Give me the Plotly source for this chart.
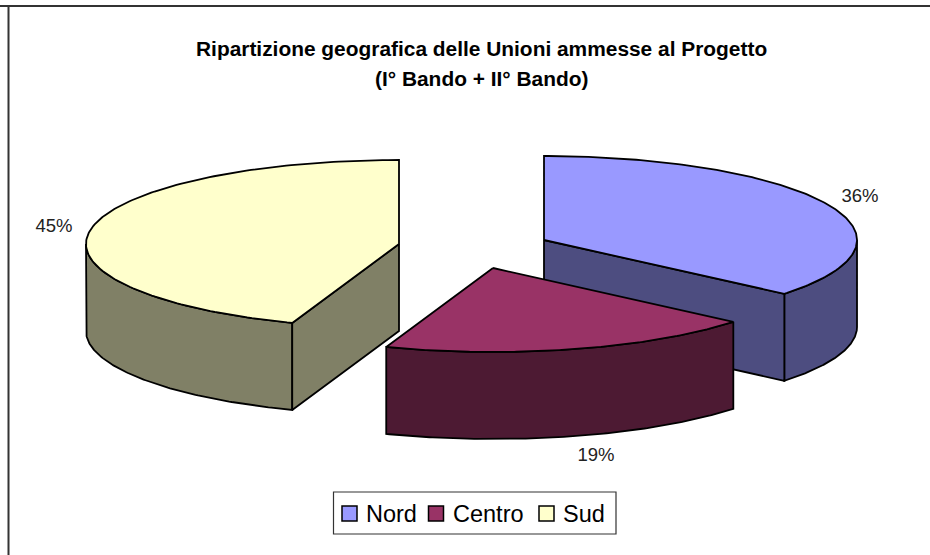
import numpy as np
import plotly.graph_objects as go

categories = ["Nord", "Centro", "Sud"]
values = [36.1, 19.49, 44.5]
labels = ["36%", "19%", "45%"]
title_lines = ["Ripartizione geografica delle Unioni ammesse al Progetto", "(I° Bando + II° Bando)"]
top_colors = ["#9999FF", "#993366", "#FFFFCC"]
side_colors = ["#4D4D80", "#4D1A33", "#808066"]
apex_x = [544, 493, 399]
apex_y = [240, 268, 244]
label_x = [860, 596, 54]
label_y = [197, 456, 227]
legend_swatch_x = [342, 428.5, 539]
legend_text_x = [366, 453, 563]
RX, RY, DEPTH = 313, 84, 87

total = sum(values)
fracs = np.cumsum([0] + values) / total * 2 * np.pi


def pt(cx, cy, a, dz=0):
    return cx + RX * np.sin(a), cy - RY * np.cos(a) + dz


def poly(fig, xs, ys, color):
    fig.add_trace(go.Scatter(x=list(xs), y=list(ys), mode="lines", fill="toself",
                             fillcolor=color, line=dict(color="black", width=1.8),
                             showlegend=False, hoverinfo="skip"))


fig = go.Figure()
for i in [2, 0, 1]:
    cx, cy = apex_x[i], apex_y[i]
    a0, a1 = fracs[i], fracs[i + 1]
    arc = np.linspace(a0, a1, 160)
    ax, ay = pt(cx, cy, arc)
    # visible outer wall: the part of the rim on the front half
    lo, hi = max(a0, np.pi / 2), min(a1, 3 * np.pi / 2)
    w = np.linspace(lo, hi, 120)
    wx, wy = pt(cx, cy, w)
    poly(fig, np.r_[wx, wx[::-1], wx[0]], np.r_[wy, wy[::-1] + DEPTH, wy[0]], side_colors[i])
    # cut face that can be seen from the front
    if i == 0:
        ex, ey = pt(cx, cy, a1)
        poly(fig, [cx, ex, ex, cx, cx], [cy, ey, ey + DEPTH, cy + DEPTH, cy], side_colors[i])
    if i == 2:
        ex, ey = pt(cx, cy, a0)
        poly(fig, [cx, ex, ex, cx, cx], [cy, ey, ey + DEPTH, cy + DEPTH, cy], side_colors[i])
    # top of the slice
    poly(fig, np.r_[cx, ax, cx], np.r_[cy, ay, cy], top_colors[i])

# data labels
fig.add_trace(go.Scatter(x=label_x, y=label_y, text=labels, mode="text",
                         textfont=dict(family="Liberation Sans", size=18.5, color="#222222"),
                         showlegend=False, hoverinfo="skip"))

shapes = [
    dict(type="line", xref="x", yref="y", x0=0, x1=930, y0=6, y1=6, line=dict(color="#333333", width=2)),
    dict(type="line", xref="x", yref="y", x0=8.5, x1=8.5, y0=6, y1=555, line=dict(color="#333333", width=2)),
    dict(type="rect", xref="x", yref="y", x0=333.5, x1=616, y0=492, y1=534,
         line=dict(color="#333333", width=1.2), fillcolor="white"),
]
annotations = []
for text, y in zip(title_lines, [48, 78]):
    annotations.append(dict(text="<b>" + text + "</b>", x=481, y=y, xref="x", yref="y", showarrow=False,
                            xanchor="center", yanchor="middle",
                            font=dict(family="Liberation Sans", size=20.9, color="black")))
for name, col, sx, tx in zip(categories, top_colors, legend_swatch_x, legend_text_x):
    shapes.append(dict(type="rect", xref="x", yref="y", x0=sx, x1=sx + 15, y0=506, y1=521,
                       line=dict(color="black", width=1.5), fillcolor=col))
    annotations.append(dict(text=name, x=tx, y=513.5, xref="x", yref="y", showarrow=False,
                            xanchor="left", yanchor="middle", xshift=-2,
                            font=dict(family="Liberation Sans", size=23.5, color="black")))

fig.update_layout(
    width=930, height=555, autosize=False,
    margin=dict(l=0, r=0, t=0, b=0),
    paper_bgcolor="white", plot_bgcolor="white",
    xaxis=dict(range=[0, 930], visible=False, fixedrange=True),
    yaxis=dict(range=[555, 0], visible=False, fixedrange=True),
    font=dict(family="Liberation Sans", color="black"),
    showlegend=False,
    shapes=shapes,
    annotations=annotations,
)
fig.write_html("out.html", config={"displayModeBar": False},
               post_script="document.body.style.margin='0';document.body.style.overflow='hidden';")
